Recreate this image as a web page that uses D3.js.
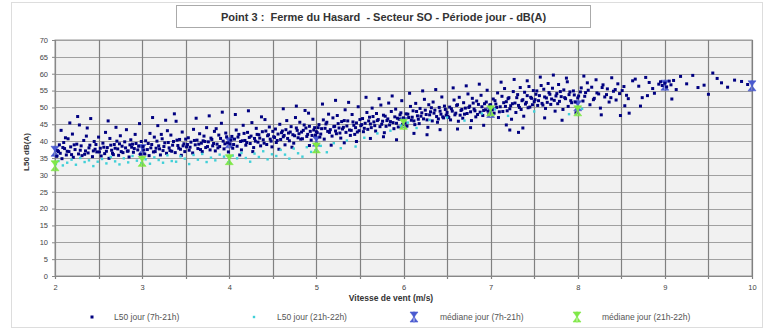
<!DOCTYPE html>
<html>
<head>
<meta charset="utf-8">
<script src="https://cdn.jsdelivr.net/npm/d3@7"></script>
<style>
  body { margin: 0; background: #fff; }
  text { font-family: 'Liberation Sans', Arial, sans-serif; }
</style>
</head>
<body>
<svg id="chart" width="765" height="330"></svg>
<script>
// L50 jour (7h-21h) : [vitesse, dB(A)]
let l50Day = [
  [2.02,35.5],[2.03,37.2],[2.05,38.9],[2.06,36.4],[2.08,34.8],[2.1,39.6],[2.11,37.8],[2.13,35.9],[2.15,40.7],[2.16,36.9],
  [2.18,38.3],[2.2,42.1],[2.21,35.2],[2.23,37.5],[2.25,39.1],[2.27,36.2],[2.28,44.8],[2.3,38.6],[2.31,35.7],[2.33,40.2],
  [2.35,37.1],[2.36,41.5],[2.38,36.5],[2.4,38.8],[2.41,46.7],[2.43,35.4],[2.45,39.9],[2.46,37.6],[2.48,36.8],[2.5,41.2],
  [2.07,43.2],[2.17,45.4],[2.26,47.3],[2.37,43.9],[2.12,41.0],
  [2.52,37.9],[2.53,35.6],[2.55,39.4],[2.57,36.3],[2.58,42.6],[2.6,38.1],[2.62,34.9],[2.63,40.8],[2.65,37.3],[2.67,36.0],
  [2.68,39.0],[2.7,44.1],[2.72,37.7],[2.73,35.8],[2.75,41.6],[2.77,38.5],[2.78,36.6],[2.8,39.8],[2.82,43.4],[2.83,37.0],
  [2.85,35.3],[2.87,40.4],[2.88,38.2],[2.9,36.7],[2.92,42.0],[2.93,39.3],[2.95,37.4],[2.97,45.2],[2.98,36.1],[2.61,46.0],
  [2.71,40.0],[2.86,38.9],
  [3.01,38.4],[3.03,36.2],[3.04,40.1],[3.06,37.5],[3.08,35.7],[3.09,42.3],[3.11,39.0],[3.13,36.8],[3.14,41.2],[3.16,37.9],
  [3.18,44.6],[3.19,38.6],[3.21,35.9],[3.23,40.7],[3.24,37.2],[3.26,39.5],[3.28,36.4],[3.29,43.1],[3.31,38.0],[3.33,41.8],
  [3.34,37.0],[3.36,39.9],[3.38,36.6],[3.39,45.9],[3.41,38.7],[3.43,40.5],[3.44,37.6],[3.46,42.7],[3.48,39.2],[3.49,36.9],
  [3.12,47.0],[3.27,46.2],[3.37,48.1],[3.22,42.0],[3.45,35.8],
  [3.51,38.3],[3.53,41.0],[3.54,37.3],[3.56,39.7],[3.58,36.5],[3.59,43.5],[3.61,38.9],[3.63,40.3],[3.64,37.8],[3.66,42.2],
  [3.68,39.4],[3.69,36.9],[3.71,41.5],[3.73,38.1],[3.74,44.0],[3.76,39.8],[3.78,37.4],[3.79,40.9],[3.81,38.6],[3.83,42.9],
  [3.84,37.1],[3.86,39.1],[3.88,41.8],[3.89,38.4],[3.91,45.3],[3.93,40.0],[3.94,37.7],[3.96,42.4],[3.98,39.5],[3.99,36.8],
  [3.62,46.8],[3.77,47.5],[3.92,48.6],[3.7,40.1],[3.85,43.7],
  [4.01,39.2],[4.03,41.4],[4.04,37.9],[4.06,40.6],[4.08,43.3],[4.09,38.5],[4.11,42.0],[4.13,39.9],[4.14,37.4],[4.16,44.7],
  [4.18,40.2],[4.19,38.8],[4.21,42.6],[4.23,41.1],[4.24,39.3],[4.26,45.5],[4.28,38.1],[4.29,40.8],[4.31,43.8],[4.33,39.7],
  [4.34,41.9],[4.36,38.6],[4.38,42.8],[4.39,40.4],[4.41,46.4],[4.43,39.0],[4.44,41.6],[4.46,44.2],[4.48,40.0],[4.49,38.3],
  [4.07,47.9],[4.22,49.0],[4.37,47.2],[4.27,36.9],[4.12,35.9],[4.42,43.0],
  [4.51,41.3],[4.53,43.6],[4.54,39.6],[4.56,42.1],[4.58,45.0],[4.59,40.5],[4.61,43.0],[4.63,41.7],[4.64,38.9],[4.66,46.1],
  [4.68,42.4],[4.69,40.1],[4.71,44.3],[4.73,41.9],[4.74,39.4],[4.76,47.0],[4.78,43.2],[4.79,41.0],[4.81,45.6],[4.83,42.7],
  [4.84,40.7],[4.86,44.8],[4.88,43.9],[4.89,41.4],[4.91,48.3],[4.93,42.9],[4.94,40.3],[4.96,46.5],[4.98,44.0],[4.99,41.8],
  [4.62,49.6],[4.77,50.4],[4.87,49.1],[4.57,37.6],[4.72,38.2],[4.92,38.7],
  [5.01,42.5],[5.03,44.9],[5.04,41.2],[5.06,43.7],[5.08,46.3],[5.09,40.6],[5.11,45.1],[5.13,42.9],[5.14,48.0],[5.16,43.4],
  [5.18,41.5],[5.19,46.9],[5.21,44.4],[5.23,42.2],[5.24,47.6],[5.26,43.9],[5.28,40.9],[5.29,45.8],[5.31,44.1],[5.33,49.3],
  [5.34,42.6],[5.36,46.0],[5.38,43.3],[5.39,41.7],[5.41,47.9],[5.43,44.7],[5.44,42.0],[5.46,45.4],[5.48,50.2],[5.49,43.1],
  [5.07,51.0],[5.22,52.1],[5.37,51.5],[5.17,38.8],[5.32,39.5],[5.46,39.9],
  [5.51,44.6],[5.53,46.7],[5.54,42.8],[5.56,45.3],[5.58,48.5],[5.59,43.5],[5.61,47.1],[5.63,44.0],[5.64,49.8],[5.66,45.7],
  [5.68,43.0],[5.69,48.2],[5.71,46.4],[5.73,44.3],[5.74,50.7],[5.76,45.9],[5.78,42.5],[5.79,47.4],[5.81,46.1],[5.83,51.3],
  [5.84,44.8],[5.86,48.8],[5.88,45.5],[5.89,43.7],[5.91,49.5],[5.93,46.8],[5.94,44.2],[5.96,47.8],[5.98,52.0],[5.99,45.0],
  [5.57,53.0],[5.72,52.6],[5.87,53.4],[5.62,40.8],[5.77,41.3],[5.92,40.4],
  [6.01,45.8],[6.03,48.1],[6.04,44.5],[6.06,47.0],[6.08,50.3],[6.09,46.2],[6.11,49.0],[6.13,44.9],[6.14,51.2],[6.16,47.5],
  [6.18,45.2],[6.19,49.7],[6.21,48.4],[6.23,46.6],[6.24,52.4],[6.26,47.9],[6.28,44.1],[6.29,50.8],[6.31,48.7],[6.33,46.0],
  [6.34,51.6],[6.36,49.2],[6.38,47.3],[6.39,45.6],[6.41,50.0],[6.43,48.0],[6.44,53.1],[6.46,46.9],[6.48,49.4],[6.49,47.7],
  [6.07,54.2],[6.22,54.9],[6.37,55.3],[6.12,42.3],[6.27,41.9],[6.42,43.4],
  [6.51,47.4],[6.53,50.1],[6.54,46.3],[6.56,48.9],[6.58,52.2],[6.59,47.8],[6.61,50.6],[6.63,45.9],[6.64,53.0],[6.66,49.1],
  [6.68,46.8],[6.69,51.4],[6.71,49.8],[6.73,48.2],[6.74,54.0],[6.76,50.4],[6.78,46.1],[6.79,52.7],[6.81,49.5],[6.83,47.2],
  [6.84,51.9],[6.86,50.9],[6.88,48.6],[6.89,53.6],[6.91,47.6],[6.93,51.1],[6.94,49.3],[6.96,55.1],[6.98,48.0],[6.99,50.7],
  [6.57,55.8],[6.72,56.4],[6.87,56.9],[6.62,43.6],[6.77,44.0],[6.92,44.7],
  [7.01,49.6],[7.03,52.5],[7.04,48.3],[7.06,51.0],[7.08,54.3],[7.09,47.0],[7.11,50.2],[7.13,53.3],[7.14,48.8],[7.16,55.6],
  [7.18,51.7],[7.19,49.0],[7.21,52.9],[7.23,50.5],[7.24,46.5],[7.26,54.7],[7.28,51.3],[7.29,48.5],[7.31,53.8],[7.33,50.0],
  [7.34,55.9],[7.36,52.0],[7.38,47.4],[7.39,54.5],[7.41,51.5],[7.43,49.9],[7.44,56.2],[7.46,53.0],[7.48,50.8],[7.49,55.0],
  [7.12,57.5],[7.27,58.3],[7.42,57.9],[7.22,43.3],[7.32,42.6],[7.37,43.9],[7.18,44.8],
  [7.51,52.3],[7.53,54.9],[7.54,50.6],[7.56,53.5],[7.58,56.5],[7.59,51.2],[7.61,55.4],[7.63,49.7],[7.64,52.8],[7.66,57.1],
  [7.68,53.9],[7.69,50.9],[7.71,55.7],[7.73,52.1],[7.74,48.9],[7.76,54.1],[7.78,56.8],[7.79,51.8],[7.81,53.2],[7.83,49.4],
  [7.84,55.2],[7.86,52.6],[7.88,57.6],[7.89,50.3],[7.91,54.6],[7.93,51.4],[7.96,53.7],[7.98,48.4],
  [7.57,59.0],[7.72,59.6],[7.87,58.7],[7.62,46.9],[7.82,46.2],
  [8.01,53.4],[8.04,55.8],[8.06,51.9],[8.09,54.4],[8.11,57.3],[8.14,50.8],[8.16,56.0],[8.19,52.7],[8.21,58.2],[8.24,54.0],
  [8.26,49.8],[8.29,56.7],[8.31,53.1],[8.34,55.5],[8.36,51.6],[8.39,58.8],[8.41,54.8],[8.44,52.2],[8.46,57.0],[8.49,47.6],
  [8.51,55.0],[8.54,50.5],[8.56,53.6],[8.59,48.3],[8.07,59.3],[8.27,47.8],
  [8.63,57.9],[8.66,58.4],[8.7,56.3],[8.74,52.9],[8.78,58.9],[8.82,57.4],[8.86,55.6],[8.88,54.2],[8.93,56.9],[8.95,57.6],
  [8.97,56.5],[9.0,57.2],[9.02,56.1],[9.05,57.8],[9.07,56.7],[9.1,58.0],[9.13,55.3],[9.18,59.2],[9.25,57.0],[9.32,59.5],
  [9.38,55.9],[9.45,56.6],[9.5,53.9],[9.55,60.2],[9.6,58.6],[9.65,57.3],[9.72,56.0],[9.8,58.1],[9.88,57.7],[9.95,56.8],
  [8.72,50.4],[9.08,52.5],[8.8,53.5]
];

// L50 jour (7h-21h), dense core of the cloud
let l50DayCore = [
  [2.04,36.9],[2.09,38.1],[2.14,37.0],[2.19,36.0],[2.22,38.9],[2.29,37.3],[2.34,36.1],[2.39,38.0],[2.44,37.1],[2.47,39.0],
  [2.51,36.8],[2.56,38.2],[2.59,37.0],[2.64,38.8],[2.66,36.4],[2.69,37.9],[2.74,39.2],[2.76,36.9],[2.81,38.0],[2.84,37.1],
  [2.89,39.1],[2.91,37.8],[2.96,38.5],[2.99,39.9],
  [3.02,37.4],[3.07,39.3],[3.1,38.0],[3.15,36.9],[3.17,40.0],[3.2,37.7],[3.25,38.4],[3.3,39.6],[3.32,37.2],[3.35,38.8],
  [3.4,40.3],[3.42,37.9],[3.47,38.6],[3.5,40.6],[3.52,39.0],[3.55,38.2],[3.6,40.2],[3.65,39.1],[3.67,37.5],[3.72,39.9],
  [3.75,38.4],[3.8,40.5],[3.82,39.3],[3.87,38.0],[3.9,40.8],[3.95,39.2],[3.97,41.3],
  [4.02,40.3],[4.05,39.0],[4.1,41.2],[4.15,40.1],[4.17,42.3],[4.2,39.6],[4.25,41.5],[4.3,40.0],[4.32,42.0],[4.35,40.9],
  [4.4,39.4],[4.45,41.9],[4.47,40.6],[4.5,42.9],[4.52,41.1],[4.55,40.2],[4.6,42.5],[4.62,41.3],[4.65,43.4],[4.67,40.8],
  [4.7,42.7],[4.75,41.6],[4.77,43.9],[4.8,42.2],[4.82,40.6],[4.85,43.2],[4.9,42.0],[4.92,44.4],[4.95,41.7],[4.97,43.3],
  [5.0,42.8],[5.02,44.0],[5.05,42.1],[5.1,43.8],[5.12,45.6],[5.15,42.6],[5.2,44.3],[5.22,43.0],[5.25,45.2],[5.27,42.4],
  [5.3,43.6],[5.32,46.1],[5.35,44.5],[5.4,43.2],[5.42,45.7],[5.45,44.0],[5.47,42.7],[5.5,46.4],[5.52,44.9],[5.55,43.8],
  [5.6,46.0],[5.62,45.1],[5.65,47.3],[5.67,44.6],[5.7,46.1],[5.75,45.0],[5.77,47.7],[5.8,44.4],[5.82,46.6],[5.85,45.8],
  [5.9,47.2],[5.92,45.3],[5.95,46.5],[5.97,48.4],
  [6.0,46.9],[6.02,45.4],[6.05,48.0],[6.1,47.1],[6.12,46.0],[6.15,48.8],[6.17,46.5],[6.2,47.4],[6.25,49.2],[6.27,46.3],
  [6.3,47.8],[6.32,49.9],[6.35,48.3],[6.4,46.6],[6.42,48.9],[6.45,47.2],[6.47,50.4],[6.5,48.5],[6.52,47.0],[6.55,49.6],
  [6.6,48.3],[6.62,50.8],[6.65,47.7],[6.67,49.4],[6.7,48.0],[6.75,50.0],[6.77,48.7],[6.8,51.3],[6.82,49.0],[6.85,47.9],
  [6.9,50.2],[6.92,49.1],[6.95,51.6],[6.97,48.9],
  [7.0,50.8],[7.02,49.3],[7.05,52.0],[7.07,50.0],[7.1,48.7],[7.15,51.4],[7.17,50.3],[7.2,52.6],[7.22,49.6],[7.25,51.1],
  [7.3,52.9],[7.32,50.6],[7.35,49.4],[7.37,52.3],[7.4,51.0],[7.42,53.5],[7.45,50.1],[7.47,52.7],[7.5,51.7],[7.52,53.9],
  [7.55,52.0],[7.6,50.7],[7.62,53.1],[7.65,51.5],[7.67,54.4],[7.7,52.5],[7.75,53.4],[7.77,51.1],[7.8,54.7],[7.85,52.9],
  [7.9,53.8],[7.92,52.0],[7.95,54.9],[7.97,51.6],
  [8.0,52.8],[8.03,54.6],[8.08,53.3],[8.12,55.1],[8.18,52.3],[8.22,54.3],[8.28,55.9],[8.33,53.8],[8.38,52.9],[8.43,55.3],
  [8.48,54.1],[8.53,56.2],[8.58,52.6]
];

// L50 jour (21h-22h)
let l50Evening = [
  [2.01,33.2],[2.04,34.1],[2.09,32.8],[2.14,33.6],[2.19,34.5],[2.24,33.0],[2.29,35.0],[2.34,33.8],[2.39,34.3],[2.44,32.6],
  [2.49,33.9],[2.54,34.7],[2.59,33.4],[2.64,35.3],[2.69,34.0],[2.74,33.1],[2.79,34.9],[2.84,33.7],[2.89,35.6],[2.94,34.2],
  [2.99,33.5],[3.04,34.6],[3.09,33.3],[3.14,35.2],[3.19,34.4],[3.24,33.6],[3.29,35.8],[3.34,34.1],[3.39,33.9],[3.44,35.5],
  [3.49,34.8],[3.54,33.2],[3.59,35.9],[3.64,34.5],[3.69,36.2],[3.74,33.8],[3.79,35.1],[3.84,34.3],[3.89,36.0],[3.94,35.4],
  [3.99,33.7],[4.04,35.7],[4.09,34.9],[4.14,36.5],[4.19,35.0],[4.24,33.9],[4.29,36.3],[4.34,35.3],[4.39,37.0],[4.44,34.6],
  [4.49,36.1],[4.54,35.6],[4.59,37.4],[4.64,36.0],[4.69,34.8],[4.74,37.8],[4.79,36.4],[4.84,35.4],[4.89,38.2],[4.94,36.8],
  [4.99,37.3],[5.05,38.6],[5.12,36.7],[5.2,39.4],[5.28,37.9],[5.35,40.2],[5.45,38.4],[5.55,41.0],[5.7,42.3],[5.85,43.1],
  [5.97,44.6],[6.05,45.5],[6.15,43.9],[6.3,46.3],[6.5,47.0],[6.7,46.1],[6.9,48.2],[7.05,49.4],[7.2,47.5],[7.5,48.8],
  [7.9,48.0],[8.05,49.6]
];

// médianes
let medianDayX = [2, 3, 4, 5, 6, 7, 8, 9, 10];
let medianDayY = [37, 37.5, 39.5, 40, 45.5, 48.5, 50.5, 56.6, 56.4];
let medianEveningX = [2, 3, 4, 5, 6, 7, 8];
let medianEveningY = [32.7, 34, 34.5, 38, 45, 49, 49];

let yTicks = d3.range(0, 71, 5);
let xTicks = d3.range(2, 10.01, 0.5);
let xLabels = d3.range(2, 11, 1);

let colors = {
  day: '#000080',
  evening: '#40d0d8',
  medDay: '#4a5ad0',
  medEve: '#80e848'
};

let svg = d3.select('#chart');
let x = d3.scaleLinear().domain([2, 10]).range([55, 752]);
let y = d3.scaleLinear().domain([0, 70]).range([276, 40]);

// outer frame
svg.append('rect')
  .attr('x', 11.5).attr('y', 2.5)
  .attr('width', 751).attr('height', 325)
  .attr('fill', 'none')
  .attr('stroke', '#ddd');

// plot background
svg.append('rect')
  .attr('x', x(2)).attr('y', y(70))
  .attr('width', x(10) - x(2)).attr('height', y(0) - y(70))
  .attr('fill', '#f1f1f1')
  .attr('stroke', '#999');

// grid
svg.append('g').selectAll('line')
  .data(yTicks)
  .enter().append('line')
  .attr('x1', x(2)).attr('x2', x(10))
  .attr('y1', d => Math.round(y(d)) + 0.5)
  .attr('y2', d => Math.round(y(d)) + 0.5)
  .attr('stroke', '#a0a0a0')
  .attr('stroke-width', 1.2);

svg.append('g').selectAll('line')
  .data(xTicks)
  .enter().append('line')
  .attr('x1', d => Math.round(x(d)) + 0.5)
  .attr('x2', d => Math.round(x(d)) + 0.5)
  .attr('y1', y(70)).attr('y2', y(0) + 3)
  .attr('stroke', '#808080')
  .attr('stroke-width', 1.2);

// axes labels
let yAxis = d3.axisLeft(y).tickValues(yTicks).tickSize(3).tickPadding(4);
let gy = svg.append('g').attr('transform', 'translate(' + x(2) + ',0)').call(yAxis);
gy.select('.domain').attr('stroke', '#888');
gy.selectAll('.tick line').attr('stroke', '#888');
gy.selectAll('text').attr('font-size', 7.5).attr('fill', '#444').attr('font-family', 'Liberation Sans');

let xAxis = d3.axisBottom(x).tickValues(xLabels).tickSize(0).tickPadding(9).tickFormat(d3.format('d'));
let gx = svg.append('g').attr('transform', 'translate(0,' + y(0) + ')').call(xAxis);
gx.select('.domain').attr('stroke', '#888');
gx.selectAll('text').attr('font-size', 7.5).attr('fill', '#444').attr('font-family', 'Liberation Sans');

// median markers (hourglass)
function hourglass(sel, color) {
  sel.append('path')
    .attr('d', 'M-4,-5 L4,-5 L0,0 Z M-4,5 L4,5 L0,0 Z M-0.7,-5 L0.7,-5 L0.7,5 L-0.7,5 Z')
    .attr('fill', color)
    .attr('stroke', color)
    .attr('stroke-width', 0.6);
}

svg.append('g').selectAll('g')
  .data(medianDayX)
  .enter().append('g')
  .attr('transform', (d, i) => 'translate(' + x(d) + ',' + y(medianDayY[i]) + ')')
  .each(function() { hourglass(d3.select(this), colors.medDay); });

// scatter
svg.append('g').selectAll('rect')
  .data(l50Day.concat(l50DayCore))
  .enter().append('rect')
  .attr('x', d => x(d[0]) - 1.5)
  .attr('y', d => y(d[1]) - 1.5)
  .attr('width', 3).attr('height', 3)
  .attr('fill', colors.day);

svg.append('g').selectAll('rect')
  .data(l50Evening)
  .enter().append('rect')
  .attr('x', d => x(d[0]) - 1.2)
  .attr('y', d => y(d[1]) - 1.2)
  .attr('width', 2.4).attr('height', 2.4)
  .attr('fill', colors.evening);

svg.append('g').selectAll('g')
  .data(medianEveningX)
  .enter().append('g')
  .attr('transform', (d, i) => 'translate(' + x(d) + ',' + y(medianEveningY[i]) + ')')
  .each(function() { hourglass(d3.select(this), colors.medEve); });

// title
svg.append('rect')
  .attr('x', 176.5).attr('y', 5.5)
  .attr('width', 414).attr('height', 22)
  .attr('fill', '#fff')
  .attr('stroke', '#aaa');
svg.append('text')
  .attr('x', 383.5).attr('y', 20.5)
  .attr('text-anchor', 'middle')
  .attr('font-size', 11)
  .attr('font-weight', 'bold')
  .attr('fill', '#333')
  .attr('xml:space', 'preserve')
  .text('Point 3 :  Ferme du Hasard  - Secteur SO - Période jour - dB(A)');

svg.append('text')
  .attr('transform', 'translate(29,152) rotate(-90)')
  .attr('text-anchor', 'middle')
  .attr('font-size', 8)
  .attr('font-weight', 'bold')
  .attr('fill', '#333')
  .text('L50 dB(A)');

svg.append('text')
  .attr('x', 391).attr('y', 301)
  .attr('text-anchor', 'middle')
  .attr('font-size', 8.5)
  .attr('font-weight', 'bold')
  .attr('fill', '#333')
  .text('Vitesse de vent (m/s)');

// legend
let legendItems = ['L50 jour (7h-21h)', 'L50 jour (21h-22h)', 'médiane jour (7h-21h)', 'médiane jour (21h-22h)'];
let legendMarkX = [92, 254, 414, 577];
let legendTextX = [114, 277, 440, 602];
let ly = 317;

svg.append('rect').attr('x', legendMarkX[0] - 1.5).attr('y', ly - 1.5).attr('width', 3).attr('height', 3).attr('fill', colors.day);
svg.append('rect').attr('x', legendMarkX[1] - 1.2).attr('y', ly - 1.2).attr('width', 2.4).attr('height', 2.4).attr('fill', colors.evening);
hourglass(svg.append('g').attr('transform', 'translate(' + legendMarkX[2] + ',' + ly + ')'), colors.medDay);
hourglass(svg.append('g').attr('transform', 'translate(' + legendMarkX[3] + ',' + ly + ')'), colors.medEve);

svg.append('g').selectAll('text')
  .data(legendItems)
  .enter().append('text')
  .attr('x', (d, i) => legendTextX[i])
  .attr('y', ly + 3)
  .attr('font-size', 8.5)
  .attr('fill', '#555')
  .text(d => d);
</script>
</body>
</html>
